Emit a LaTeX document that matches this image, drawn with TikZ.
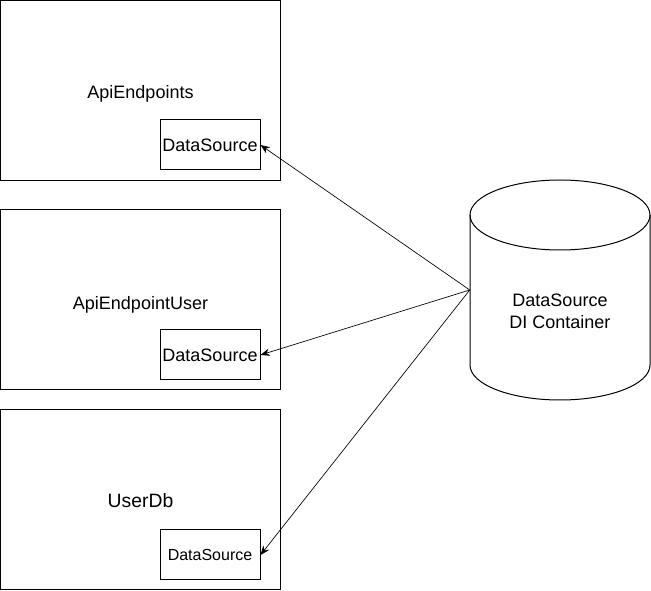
\documentclass[tikz,border=0pt]{standalone}
\usepackage{fontspec}
\setmainfont{Liberation Sans}
\usepackage{tikz}
\usetikzlibrary{arrows}
\usetikzlibrary{arrows.meta}

\tikzset{
  outerbox/.style={draw, line width=0.75pt, minimum width=210pt, minimum height=135pt,
    inner sep=0pt, font=\fontsize{13.5}{16}\selectfont},
  innerbox/.style={draw, line width=0.75pt, minimum width=75pt, minimum height=37.5pt,
    inner sep=0pt, font=\fontsize{13.5}{16}\selectfont},
  link/.style={-{Stealth[length=7pt, width=5.5pt]}, line width=0.5pt},
}

\begin{document}
\begin{tikzpicture}[x=0.75pt, y=-0.75pt]
    \useasboundingbox (0,0) rectangle (651,591);

    % components
    \node[outerbox] (endpoints) at (140.5,90.5) {\raisebox{-5.9pt}[0pt][0pt]{ApiEndpoints}};
    \node[outerbox] (epuser)    at (140.5,300)  {\raisebox{-7pt}[0pt][0pt]{ApiEndpointUser}};
    \node[outerbox, font=\fontsize{14.5}{17}\selectfont] (userdb) at (140.5,500)
    {\raisebox{-5.5pt}[0pt][0pt]{UserDb}};

    \node[innerbox] (ds1) at (210,145) {DataSource};
    \node[innerbox] (ds2) at (210,355) {DataSource};
    \node[innerbox, font=\fontsize{12}{14}\selectfont] (ds3) at (210,555) {DataSource};

    % container
    \node[minimum width=135pt, minimum height=165pt, inner sep=0pt] (dic) at (560,290) {};
    \draw[line width=0.75pt]
    (470,215) -- (470,365) arc[start angle=180, end angle=360, x radius=67.5pt, y radius=26.25pt]
    -- (650,215);
    \draw[line width=0.75pt] (560,215) ellipse[x radius=67.5pt, y radius=26.25pt];
    \node[align=center, font=\fontsize{13.5}{16.5}\selectfont] (dilabel) at (560,311)
    {DataSource\\DI Container};

    \draw[link] (dic.west) -- (ds1.east);
    \draw[link] (dic.west) -- (ds2.east);
    \draw[link] (dic.west) -- (ds3.east);
\end{tikzpicture}
\end{document}
